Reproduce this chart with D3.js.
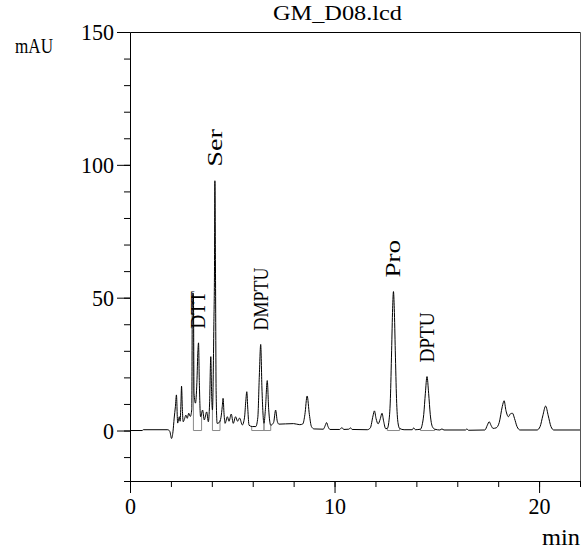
<!DOCTYPE html>
<html>
<head>
<meta charset="utf-8">
<script src="https://cdn.jsdelivr.net/npm/d3@7"></script>
<style>
  html, body { margin: 0; padding: 0; background: #fff; }
  svg { display: block; }
  svg text { font-family: "Liberation Serif", "Times New Roman", serif; fill: #000; }
</style>
</head>
<body>
<svg id="chart" width="588" height="549"></svg>
<script>
// Chromatogram GM_D08.lcd — retention time (min) vs absorbance (mAU)
const timeMin = [
  0, 0.6, 0.65, 1.85, 1.95, 2.03, 2.1, 2.16, 2.22, 2.27, 2.33, 2.38, 2.41, 2.45, 2.49, 2.52, 2.56, 2.6,
  2.67, 2.73, 2.8, 2.87, 2.95, 3.02, 3.05, 3.1, 3.13, 3.2, 3.27, 3.32, 3.35, 3.39, 3.45, 3.55, 3.63,
  3.75, 3.83, 3.89, 3.95, 3.99, 4.03, 4.1, 4.13, 4.15, 4.18, 4.21, 4.26, 4.36, 4.45, 4.51, 4.55, 4.6,
  4.65, 4.76, 4.84, 4.95, 5.05, 5.16, 5.26, 5.36, 5.49, 5.6, 5.66, 5.71, 5.76, 5.82, 5.98, 6.15, 6.25,
  6.32, 6.39, 6.45, 6.55, 6.62, 6.71, 6.78, 6.88, 7.02, 7.12, 7.2, 7.28, 7.6, 8.0, 8.3, 8.45, 8.55,
  8.66, 8.77, 8.87, 9.0, 9.45, 9.55, 9.61, 9.68, 9.78, 10.25, 10.36, 10.45, 10.7, 10.78, 10.86, 11.6,
  11.75, 11.88, 11.95, 12.03, 12.13, 12.24, 12.32, 12.4, 12.5, 12.58, 12.65, 12.73, 12.79, 12.84, 12.88,
  12.92, 12.97, 13.03, 13.1, 13.18, 13.4, 13.8, 13.87, 13.95, 14.2, 14.28, 14.36, 14.44, 14.52, 14.6,
  14.68, 14.78, 14.9, 15.15, 15.25, 15.35, 16.4, 16.47, 16.55, 17.35, 17.47, 17.56, 17.66, 17.75, 17.9,
  18.05, 18.2, 18.29, 18.38, 18.5, 18.6, 18.7, 18.8, 18.92, 19.07, 19.9, 20.05, 20.18, 20.32, 20.45,
  20.58, 20.72, 22
];
const signalMAU = [
  0, 0, 0.3, 0.3, -0.4, -3, -0.5, 4.7, 9, 13.4, 2.8, 4.5, 5.2, 3.5, 10, 16.7, 8, 3.3,
  4.5, 5.8, 4.6, 6.5, 5.3, 8, 51.6, 51.6, 14, 10.3, 18, 30, 33, 18, 5.2, 7.7, 4,
  7, 3.3, 10, 27.8, 14, 7.7, 40, 60, 94, 59, 15, 2.7, 3, 5, 9, 12.1, 6,
  2.7, 5.2, 3.5, 6.2, 2.7, 5.2, 3.5, 4.7, 2.1, 5, 11, 14.6, 8, 2, 1.5, 1.5, 5,
  20, 32.4, 16, 2.7, 8, 18.8, 8, 2, 3, 7.7, 3.5, 2.4, 2.5, 2.6, 2.2, 2.5, 6,
  13, 6, 1.5, 0.6, 0.5, 2, 3, 1.5, 0.4, 0.4, 1.1, 0.4, 0.5, 1, 0.4, 0.3,
  1, 5.5, 7.4, 4.5, 2.5, 4.5, 6.5, 3.5, 0.7, 0.8, 3, 12, 30, 46, 52.3,
  46, 30, 12, 3, 0.8, 0.3, 0.3, 1, 0.3, 0.5, 2, 6, 14, 20.3, 14,
  6, 1.5, 0.5, 0.2, 0.6, 0.2, 0.2, 0.6, 0.1, 0.2, 2, 3.3, 1.8, 0.8, 1,
  3, 9, 11.2, 7.5, 5.2, 6.3, 6.5, 4.5, 1.5, 0.2, 0.2, 1.5, 5.5, 9.2, 5.5,
  1.5, 0.2, 0.2
];

// Integration windows (start / end, min)
const integStart = [3.1, 4.03, 5.95, 6.55, 12.58, 14.2];
const integEnd   = [3.5, 4.4, 6.55, 6.88, 13.18, 14.9];

// Identified peaks
const peakNames   = ["DTT", "Ser", "DMPTU", "Pro", "DPTU"];
const peakTimes   = [3.35, 4.15, 6.39, 12.88, 14.52];
const peakHeights = [33, 94, 32.4, 52.3, 20.3];

// Axis ticks
const xMinorTicks = d3.range(0, 23, 2);
const xMajorTicks = [0, 10, 20];
const yMinorTicks = d3.range(-10, 151, 10);
const yMajorTicks = [0, 50, 100, 150];

const titleText = "GM_D08.lcd";
const yUnit = "mAU";
const xUnit = "min";

const FONT = "Liberation Serif";
const DIGIT_ADVANCE = 11;   // fixed-pitch look for numbers
const svg = d3.select("#chart");

const x = d3.scaleLinear().domain([0, 22]).range([130, 580]);
const y = d3.scaleLinear().domain([-19, 150]).range([481, 32]);

// frame: top and right edges
svg.append("line")
  .attr("x1", x(0) + 0.5).attr("x2", x(22) + 0.5)
  .attr("y1", y(150) + 0.5).attr("y2", y(150) + 0.5)
  .attr("stroke", "#000");
svg.append("line")
  .attr("x1", x(22) + 0.5).attr("x2", x(22) + 0.5)
  .attr("y1", y(150) + 0.5).attr("y2", y(-19) + 0.5)
  .attr("stroke", "#555");

// x axis: minor ticks + labelled major ticks
const gx = svg.append("g").attr("transform", `translate(0,${y(-19)})`);
gx.call(d3.axisBottom(x).tickValues(xMinorTicks).tickSize(6).tickFormat(""));
gx.append("g").call(d3.axisBottom(x).tickValues(xMajorTicks).tickSize(12).tickPadding(4).tickFormat(d3.format("d")))
  .call(g => g.select(".domain").remove());

// y axis: minor ticks + labelled major ticks
const gy = svg.append("g").attr("transform", `translate(${x(0)},0)`);
gy.call(d3.axisLeft(y).tickValues(yMinorTicks).tickSize(6).tickFormat(""));
gy.append("g").call(d3.axisLeft(y).tickValues(yMajorTicks).tickSize(13).tickPadding(3).tickFormat(d3.format("d")))
  .call(g => g.select(".domain").remove());

svg.selectAll("g").attr("font-family", FONT);
svg.selectAll(".domain, .tick line").attr("stroke", "#000");
svg.selectAll(".tick text")
  .attr("font-family", FONT)
  .attr("font-size", 24)
  .attr("fill", "#000")
  .each(function () {
    const n = this.textContent.length;
    if (n) d3.select(this).attr("textLength", n * DIGIT_ADVANCE).attr("lengthAdjust", "spacingAndGlyphs");
  });

// trace value at time t (linear between recorded points)
const bis = d3.bisector(d => d).left;
function traceAt(t) {
  const i = Math.max(1, Math.min(timeMin.length - 1, bis(timeMin, t)));
  const t0 = timeMin[i - 1], t1 = timeMin[i];
  const f = (t - t0) / (t1 - t0);
  return signalMAU[i - 1] + f * (signalMAU[i] - signalMAU[i - 1]);
}

// integration baselines and drop lines
const integ = integStart.map((s, i) => ({ s, e: integEnd[i] }));
svg.append("g")
  .selectAll("path")
  .data(integ)
  .join("path")
  .attr("fill", "none")
  .attr("stroke", "#8a8a8a")
  .attr("stroke-width", 1)
  .attr("d", d => d3.line()([
    [x(d.s), y(traceAt(d.s))],
    [x(d.s), y(0)],
    [x(d.e), y(0)],
    [x(d.e), y(traceAt(d.e))]
  ]));

// chromatogram trace
const pts = timeMin.map((t, i) => [t, signalMAU[i]]);
svg.append("path")
  .datum(pts)
  .attr("fill", "none")
  .attr("stroke", "#000")
  .attr("stroke-width", 1)
  .attr("stroke-linejoin", "round")
  .attr("d", d3.line().x(d => x(d[0])).y(d => y(d[1])).curve(d3.curveMonotoneX));

// peak labels, written upward above each peak
const labelAdvance = 12.6;
const peaks = peakNames.map((n, i) => ({ n, t: peakTimes[i], h: peakHeights[i] }));
svg.append("g")
  .selectAll("text")
  .data(peaks)
  .join("text")
  .attr("transform", d => `translate(${x(d.t)},${y(d.h) - 14}) rotate(-90)`)
  .attr("dy", "0.33em")
  .attr("font-family", FONT)
  .attr("font-size", 21)
  .attr("textLength", d => d.n.length * labelAdvance)
  .attr("lengthAdjust", "spacingAndGlyphs")
  .text(d => d.n);

// title and units
svg.append("text")
  .attr("x", 273).attr("y", 20)
  .attr("font-family", FONT)
  .attr("font-size", 22)
  .attr("textLength", 129)
  .attr("lengthAdjust", "spacingAndGlyphs")
  .text(titleText);

svg.append("text")
  .attr("x", 15).attr("y", 53)
  .attr("font-family", FONT)
  .attr("font-size", 21)
  .attr("textLength", 38)
  .attr("lengthAdjust", "spacingAndGlyphs")
  .text(yUnit);

svg.append("text")
  .attr("x", 542).attr("y", 545)
  .attr("font-family", FONT)
  .attr("font-size", 23)
  .attr("textLength", 38)
  .attr("lengthAdjust", "spacingAndGlyphs")
  .text(xUnit);
</script>
</body>
</html>
